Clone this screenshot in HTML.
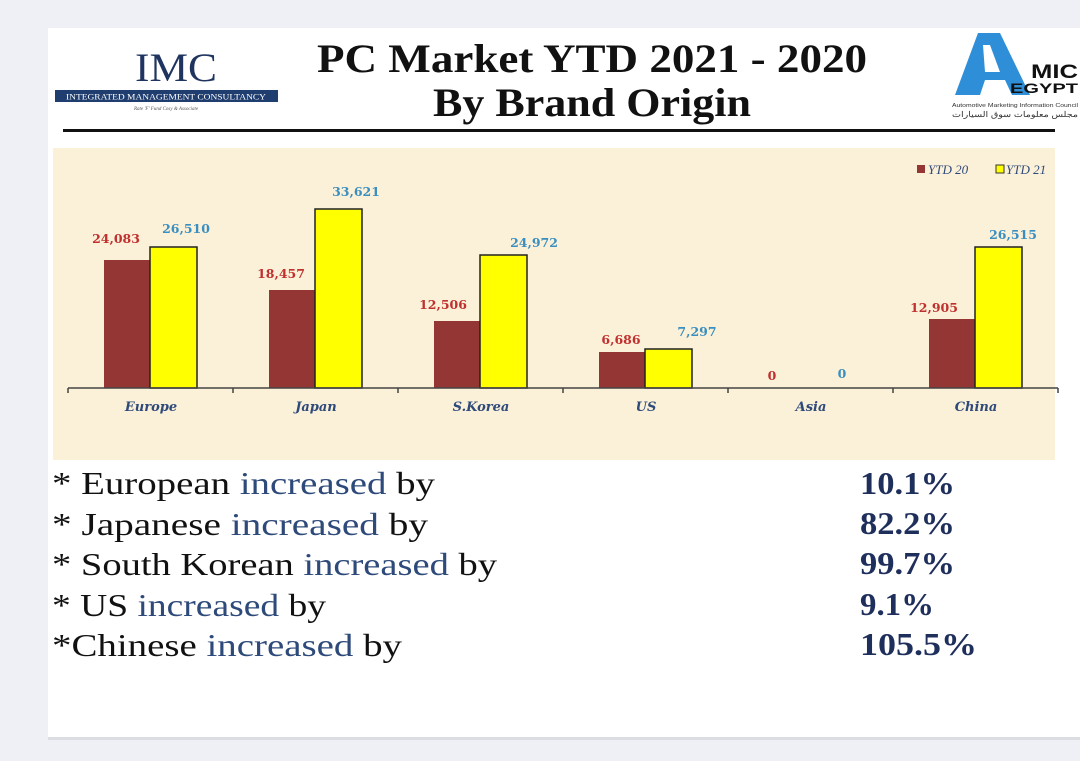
<!DOCTYPE html>
<html><head><meta charset="utf-8"><style>
html,body{margin:0;padding:0;background:#eef0f5;}
svg{display:block}
</style></head><body>
<svg width="1080" height="761" xmlns="http://www.w3.org/2000/svg" font-family="Liberation Serif, serif">
<rect width="1080" height="761" fill="#eef0f5"/>
<rect x="48" y="28" width="1032" height="709" fill="#fff"/>
<rect x="48" y="737" width="1032" height="3" fill="#dcdde2"/>
<!-- IMC logo -->
<text x="176" y="81" text-anchor="middle" font-size="40" fill="#1f3560" textLength="82" lengthAdjust="spacingAndGlyphs">IMC</text>
<rect x="55" y="90" width="223" height="12" fill="#1f3d6e"/>
<text x="166" y="99.5" text-anchor="middle" font-size="8" fill="#fff" textLength="200" lengthAdjust="spacingAndGlyphs">INTEGRATED MANAGEMENT CONSULTANCY</text>
<text x="166" y="110" text-anchor="middle" font-size="5" font-style="italic" fill="#555">Rate 'F' Fund Cosy &amp; Associate</text>
<!-- Title -->
<text x="592" y="72" text-anchor="middle" font-size="40" font-weight="bold" fill="#111" textLength="550" lengthAdjust="spacingAndGlyphs">PC Market YTD 2021 - 2020</text>
<text x="592" y="116" text-anchor="middle" font-size="40" font-weight="bold" fill="#111" textLength="318" lengthAdjust="spacingAndGlyphs">By Brand Origin</text>
<rect x="63" y="129" width="992" height="3" fill="#111"/>
<!-- AMIC logo -->
<polygon points="978,33 1000,33 1030,95 1012,95 1005,80 985,80 980,95 955,95" fill="#2e8fd8"/>
<polygon points="983,45 990,45 1000,72 985,72" fill="#fff"/>
<text x="1031" y="78" font-family="Liberation Sans, sans-serif" font-weight="bold" font-size="19" fill="#111" textLength="47" lengthAdjust="spacingAndGlyphs">MIC</text>
<text x="1010" y="93" font-family="Liberation Sans, sans-serif" font-weight="bold" font-size="14" fill="#111" textLength="68" lengthAdjust="spacingAndGlyphs">EGYPT</text>
<text x="1015" y="107" text-anchor="middle" font-family="Liberation Sans, sans-serif" font-size="5" fill="#333" textLength="126" lengthAdjust="spacingAndGlyphs">Automotive Marketing Information Council</text>
<text x="1015" y="117" text-anchor="middle" font-family="Liberation Sans, sans-serif" font-size="8" fill="#333" textLength="126" lengthAdjust="spacingAndGlyphs">مجلس معلومات سوق السيارات</text>
<!-- chart bg -->
<rect x="53" y="148" width="1002" height="312" fill="#fbf0d8"/>
<!-- legend -->
<rect x="917" y="165" width="8" height="8" fill="#943634"/>
<text x="928" y="174" font-size="13" font-style="italic" fill="#2e4a7a">YTD 20</text>
<rect x="996" y="165" width="8" height="8" fill="#ffff00" stroke="#333" stroke-width="1"/>
<text x="1006" y="174" font-size="13" font-style="italic" fill="#2e4a7a">YTD 21</text>
<!-- bars -->
<g stroke="#222" stroke-width="1.5">
<rect x="104" y="260" width="46" height="128" fill="#943634" stroke="none"/>
<rect x="150" y="247" width="47" height="141" fill="#ffff00"/>
<rect x="269" y="290" width="46" height="98" fill="#943634" stroke="none"/>
<rect x="315" y="209" width="47" height="179" fill="#ffff00"/>
<rect x="434" y="321" width="46" height="67" fill="#943634" stroke="none"/>
<rect x="480" y="255" width="47" height="133" fill="#ffff00"/>
<rect x="599" y="352" width="46" height="36" fill="#943634" stroke="none"/>
<rect x="645" y="349" width="47" height="39" fill="#ffff00"/>
<rect x="929" y="319" width="46" height="69" fill="#943634" stroke="none"/>
<rect x="975" y="247" width="47" height="141" fill="#ffff00"/>
</g>
<!-- axis -->
<g stroke="#444" stroke-width="1.5">
<line x1="68" y1="388" x2="1058" y2="388"/>
<line x1="68" y1="388" x2="68" y2="393"/><line x1="233" y1="388" x2="233" y2="393"/>
<line x1="398" y1="388" x2="398" y2="393"/><line x1="563" y1="388" x2="563" y2="393"/>
<line x1="728" y1="388" x2="728" y2="393"/><line x1="893" y1="388" x2="893" y2="393"/>
<line x1="1058" y1="388" x2="1058" y2="393"/>
</g>
<!-- value labels -->
<g font-family="DejaVu Serif, serif" font-weight="bold" font-size="12.5" text-anchor="middle">
<g fill="#c0302f">
<text x="116" y="243">24,083</text>
<text x="281" y="278">18,457</text>
<text x="443" y="309">12,506</text>
<text x="621" y="344">6,686</text>
<text x="772" y="380">0</text>
<text x="934" y="312">12,905</text>
</g>
<g fill="#3a8fc0">
<text x="186" y="233">26,510</text>
<text x="356" y="196">33,621</text>
<text x="534" y="247">24,972</text>
<text x="697" y="336">7,297</text>
<text x="842" y="378">0</text>
<text x="1013" y="239">26,515</text>
</g>
</g>
<!-- category labels -->
<g font-family="DejaVu Serif, serif" font-weight="bold" font-style="italic" font-size="13" fill="#2e4a7a" text-anchor="middle">
<text x="151" y="411">Europe</text>
<text x="316" y="411">Japan</text>
<text x="481" y="411">S.Korea</text>
<text x="646" y="411">US</text>
<text x="811" y="411">Asia</text>
<text x="976" y="411">China</text>
</g>
<!-- bottom text -->
<g font-size="32" fill="#111">
<text x="52" y="494" textLength="383" lengthAdjust="spacingAndGlyphs">* European <tspan fill="#2e4a7a">increased</tspan> by</text>
<text x="52" y="535" textLength="376" lengthAdjust="spacingAndGlyphs">* Japanese <tspan fill="#2e4a7a">increased</tspan> by</text>
<text x="52" y="575" textLength="445" lengthAdjust="spacingAndGlyphs">* South Korean <tspan fill="#2e4a7a">increased</tspan> by</text>
<text x="52" y="616" textLength="274" lengthAdjust="spacingAndGlyphs">* US <tspan fill="#2e4a7a">increased</tspan> by</text>
<text x="52" y="656" textLength="350" lengthAdjust="spacingAndGlyphs">*Chinese <tspan fill="#2e4a7a">increased</tspan> by</text>
</g>
<g font-size="32" font-weight="bold" fill="#1f2f5c">
<text x="860" y="494" textLength="95" lengthAdjust="spacingAndGlyphs">10.1%</text>
<text x="860" y="534" textLength="95" lengthAdjust="spacingAndGlyphs">82.2%</text>
<text x="860" y="574" textLength="95" lengthAdjust="spacingAndGlyphs">99.7%</text>
<text x="860" y="615" textLength="74" lengthAdjust="spacingAndGlyphs">9.1%</text>
<text x="860" y="655" textLength="117" lengthAdjust="spacingAndGlyphs">105.5%</text>
</g>
</svg>
</body></html>
